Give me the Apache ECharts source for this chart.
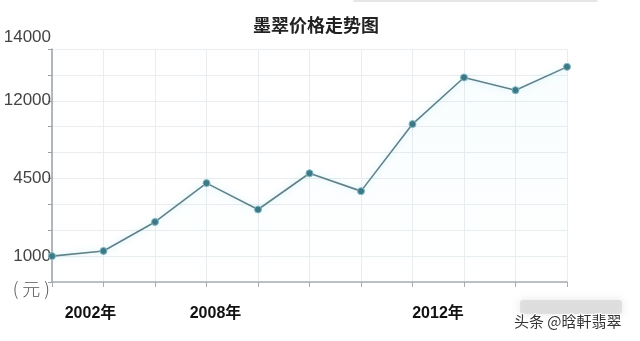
<!DOCTYPE html>
<html>
<head>
<meta charset="utf-8">
<script src="https://cdn.jsdelivr.net/npm/echarts@6/dist/echarts.min.js"></script>
<style>
html,body{margin:0;padding:0;background:#fff;}
#c{width:640px;height:341px;}
</style>
</head>
<body>
<div id="c"></div>
<script>
// Category slots along the x axis (11 points)
var categories = ['c0','c1','c2','c3','c4','c5','c6','c7','c8','c9','c10'];
// Visible year labels for some slots
var yearLabels = ['', '2002年', '', '2008年', '', '', '', '', '2012年', '', ''];
// Series values in y-axis row units (axis is drawn with an uneven price scale)
var priceRows = [1.0, 1.2, 2.32, 3.82, 2.8, 4.2, 3.51, 6.1, 7.9, 7.41, 8.31];
// Tick labels of the y axis, indexed by row
var yTickLabels = ['', '1000', '', '', '4500', '', '', '12000', '', '14000'];

var chart = echarts.init(document.getElementById('c'), null, {renderer: 'canvas'});
var labelStyles = {
  '2002年': 'a',
  '2008年': 'b',
  '2012年': 'c'
};
var option = {
  animation: false,
  backgroundColor: '#fff',
  title: {
    text: '墨翠价格走势图',
    left: 311,
    textAlign: 'center',
    top: 11,
    textStyle: {fontFamily: 'Noto Sans CJK SC', fontSize: 18, fontWeight: 'bold', color: '#222'}
  },
  grid: {left: 52, right: 73, top: 49, bottom: 59},
  xAxis: {
    type: 'category',
    data: categories,
    boundaryGap: false,
    axisLine: {lineStyle: {color: '#a6adb2', width: 1.5}},
    axisTick: {show: true, length: 5, lineStyle: {color: '#a6adb2'}},
    splitLine: {show: true, lineStyle: {color: '#e9edf0', width: 1}},
    axisLabel: {
      interval: 0,
      margin: 24,
      formatter: function (v, i) {
        var t = yearLabels[i];
        if (!t) return '';
        return '{' + labelStyles[t] + '|' + t + '}';
      },
      rich: {
        a: {fontFamily: 'Liberation Sans, Noto Sans CJK SC', fontSize: 16, fontWeight: 'bold', color: '#111', padding: [0, 26, 0, 0]},
        b: {fontFamily: 'Liberation Sans, Noto Sans CJK SC', fontSize: 16, fontWeight: 'bold', color: '#111', padding: [0, 0, 0, 18]},
        c: {fontFamily: 'Liberation Sans, Noto Sans CJK SC', fontSize: 16, fontWeight: 'bold', color: '#111', padding: [0, 52, 0, 0]}
      }
    }
  },
  yAxis: {
    type: 'value',
    min: 0,
    max: 9,
    interval: 1,
    name: '( 元 )',
    nameLocation: 'start',
    nameGap: 7,
    nameTextStyle: {fontFamily: 'Noto Sans CJK SC', fontSize: 18, fontWeight: 300, color: '#555', align: 'right', verticalAlign: 'middle', padding: [0, 2, 0, 0]},
    axisLine: {show: true, lineStyle: {color: '#9aa2a8', width: 1.5}},
    axisTick: {show: true, length: 4, lineStyle: {color: '#9aa2a8'}},
    splitLine: {show: true, lineStyle: {color: '#e9edf0', width: 1}},
    axisLabel: {
      margin: 1,
      formatter: function (v) {
        var t = yTickLabels[Math.round(v)] || '';
        if (!t) return '';
        return Math.round(v) === 9 ? '{top|' + t + '}' : '{n|' + t + '}';
      },
      rich: {
        n: {fontFamily: 'Liberation Sans', fontSize: 17, color: '#444'},
        top: {fontFamily: 'Liberation Sans', fontSize: 17, color: '#444', padding: [0, 0, 24, 0]}
      }
    }
  },
  series: [{
    type: 'line',
    data: priceRows,
    symbol: 'circle',
    symbolSize: 7,
    itemStyle: {color: '#3f7784', borderColor: '#7fbcc7', borderWidth: 1},
    lineStyle: {color: '#62828a', width: 1.6, shadowColor: 'rgba(80,200,230,0.35)', shadowBlur: 6},
    areaStyle: {color: new echarts.graphic.LinearGradient(0, 0, 0, 1, [
      {offset: 0, color: 'rgba(120,215,235,0.07)'},
      {offset: 1, color: 'rgba(120,215,235,0.0)'}
    ])}
  }],
  graphic: [
    {type: 'rect', shape: {x: 353, y: -2, width: 245, height: 4, r: 2}, style: {fill: '#e6e6e6'}, silent: true},
    {type: 'rect', shape: {x: 520, y: 300, width: 102, height: 14, r: 3}, style: {fill: 'rgba(215,215,215,0.7)', shadowBlur: 8, shadowColor: 'rgba(215,215,215,0.9)'}, silent: true},
    {type: 'text', left: 513, top: 313, style: {text: '头条 @晗軒翡翠', font: '15px "Noto Sans CJK SC"', fill: '#333', stroke: '#fff', lineWidth: 2}, silent: true}
  ]
};
chart.setOption(option);
</script>
</body>
</html>
